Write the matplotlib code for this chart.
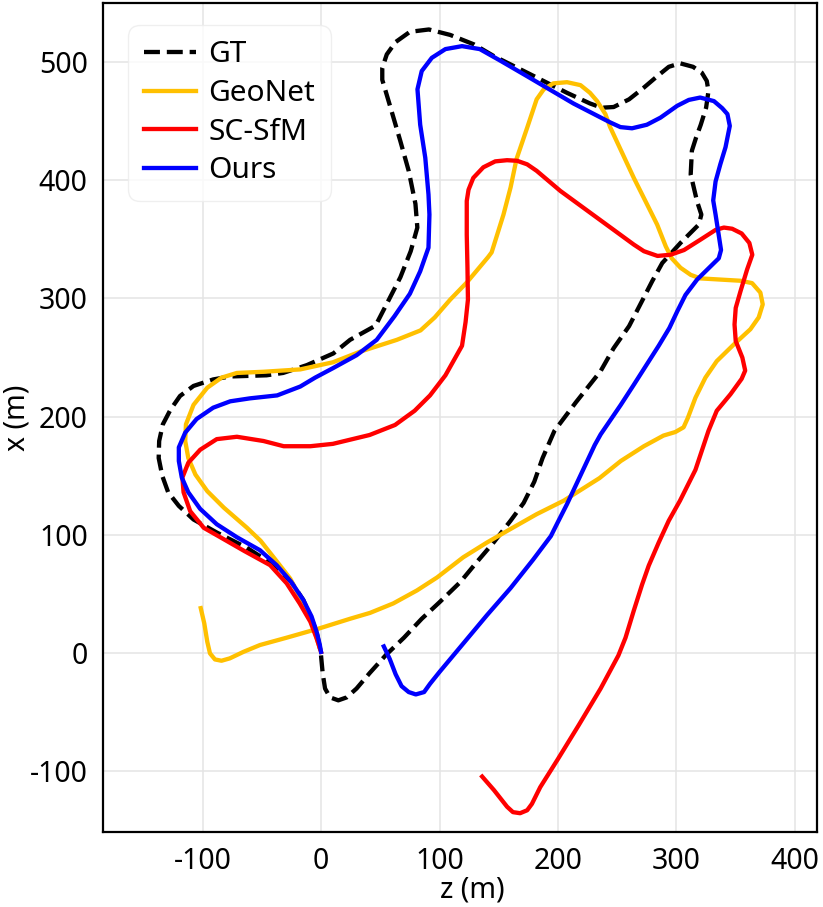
import matplotlib
matplotlib.use("Agg")
import matplotlib.pyplot as plt

# trajectories, z then x
gt_z = [0, 1.4, 3.4, 7.6, 14.6, 21.7, 30, 41, 55, 70, 85, 100, 117.5, 131.5, 146, 160, 171, 180, 187, 197, 215, 236, 247, 260, 271, 279.5, 288, 303.4, 318.8, 321, 317.4, 312, 313, 316.5, 320.5, 325, 327, 325.6, 321.4, 314, 303, 293.5, 283.7, 272, 260, 247, 237, 227, 207.6, 174, 146, 129, 109, 91, 75, 63, 55.5, 51.7, 51.7, 58.7, 67, 74, 79.7, 81.3, 75.7, 67, 57.5, 46, 24.5, 10.4, -12, -32, -46, -77, -91, -107.6, -119, -127, -133.5, -136.6, -137, -134, -129, -120, -107.6, -88, -62.5, -37.5, -25, -15, -4, 0]
gt_x = [-2, -17, -30, -37.5, -40, -37.5, -30, -17, -1.4, 13, 29, 43, 60, 77, 94, 112, 127, 145, 165, 188, 212, 238.6, 258, 276.6, 298, 314.6, 330, 347, 362.5, 371, 382, 405, 425, 436, 447, 461.4, 475.5, 484, 491, 496, 499, 496, 488, 478, 468.5, 462, 461.4, 465, 474, 491, 505, 515, 523, 527.6, 525.6, 517, 506.5, 495, 485, 461.4, 433, 408, 380, 360, 340, 318, 299.4, 277, 265, 253.5, 243.6, 237, 235, 234, 231.5, 226, 217.5, 206, 193.5, 179.4, 165, 150, 136, 124.5, 113, 102, 89, 73, 60, 45, 19, 0]

geonet_z = [-101.5, -98.5, -96, -93.7, -89.5, -84, -77, -65.5, -51.5, -29, -1, 24.5, 41.4, 61, 81, 98, 120, 140, 160, 182, 205, 235, 253, 272.5, 289, 299, 306, 309.6, 316, 324.4, 334, 348.3, 362.4, 369.4, 372.8, 370.8, 363.8, 354, 337, 320, 312, 303.4, 296, 291, 283.7, 274, 264, 244, 240, 233, 227, 219, 207.6, 196, 188, 182, 174, 165, 160, 154, 144, 141, 123, 109, 96, 84, 64, 33, 10, -17.5, -48.5, -71, -84, -96, -107.6, -114, -114.6, -112, -106, -96, -82, -62.5, -51, -40, -26, -15, -6.5, -1]
geonet_x = [38, 25, 9.6, -0.3, -5.4, -6.5, -4.5, 1, 6.8, 13, 21, 29, 34, 42, 53, 64, 81, 93.5, 105, 117.5, 129, 148, 162.5, 175, 184, 187, 191, 199, 216, 233, 247, 261, 274, 284, 295, 305, 313, 315, 316, 317, 320, 326, 334, 344, 362.5, 382, 402, 445, 456, 467, 474, 480.5, 483, 482, 477, 468.5, 444.5, 418, 394, 371, 339, 335, 313.5, 299, 284, 273, 265, 255, 246, 240, 238, 237, 233, 224.5, 210, 193.5, 179.4, 165, 151, 137, 123, 106, 95, 81, 63, 42, 22, 4]

sfm_z = [136, 146, 157, 162, 168, 174, 178, 185, 200, 217.5, 236, 251, 257, 264, 271, 276.6, 285, 293.5, 303, 316, 319, 327, 334, 345.6, 355, 358, 355.6, 350, 349, 350, 354, 359.6, 364, 361.5, 355, 347, 340, 333, 320.6, 306.4, 295, 284, 272.5, 264, 202, 182, 174, 165.5, 157, 147, 137, 128.5, 124.5, 123, 123, 123.6, 124, 122, 119, 105, 92, 79, 62.5, 41, 10, -9, -31.5, -48.5, -71, -88, -102, -112, -117, -116, -110.4, -99, -85, -65, -43, -29, -18, -9, -3.7, 0]
sfm_x = [-104.5, -116, -130, -134.6, -135.5, -133, -127.6, -113.5, -89.6, -61, -30, -2, 13, 36, 58, 74, 93.5, 112, 129, 155, 164, 188, 205, 219, 232, 239, 250, 264, 278, 292, 306, 324.5, 337, 347, 355, 359, 360, 358, 350, 341, 337, 336, 340, 345.6, 391, 408, 413.5, 416.5, 417, 416, 411, 402, 392, 382.5, 354, 326, 299, 280, 260, 235, 218, 205, 193, 184.5, 177, 175, 175, 179.4, 183, 181, 172, 161, 148.5, 136, 120, 106, 98, 86.5, 74.4, 59, 42, 26.5, 12.4, 1]

ours_z = [53, 58, 63, 68, 74, 80, 87, 92, 100, 120, 140, 160, 179, 194, 200.5, 207.6, 231, 236, 253, 264, 285, 294, 300.6, 307.6, 317.4, 335.7, 337.6, 335, 333, 331, 333, 337, 341.4, 345, 343, 338.6, 331.6, 320, 310.4, 300.6, 286.5, 275, 262.5, 252.7, 244, 213, 174, 151, 134, 119, 105, 93.5, 85, 81.4, 83.7, 88, 90.7, 91.5, 90.7, 83.7, 75, 62, 47, 30, 10, -5, -17.5, -37, -60, -76.6, -91, -105, -114.6, -120, -120, -117.5, -112, -102, -88, -71, -51.5, -37.5, -25, -15, -8, -3.7, -1, 0]
ours_x = [5.6, -5, -18, -28, -33, -35, -33, -26, -16, 8, 32, 55, 79, 99, 112, 126, 176, 185, 210, 227, 260, 275, 289, 303, 316, 334, 341, 358, 371, 383, 399, 413.5, 428, 446, 456, 461, 467, 470, 468, 463, 453, 447, 444, 445, 449, 465, 488, 501.4, 511, 513.5, 511, 503.6, 492.4, 477, 447, 419, 388, 371, 343, 323, 304, 285, 265, 252, 241, 233, 225.5, 218, 215.5, 213, 207.6, 198, 186.5, 174, 162.5, 148.5, 136, 122, 109, 98, 87, 74.4, 60, 45, 31, 18, 6.8, 1]

x_ticks = [-100, 0, 100, 200, 300, 400]
y_ticks = [-100, 0, 100, 200, 300, 400, 500]

plt.rcParams['font.family'] = ['Noto Sans', 'DejaVu Sans']
plt.rcParams['axes.unicode_minus'] = False
fig = plt.figure(figsize=(8.23, 9.07), dpi=100)
ax = fig.add_axes([103 / 823, 1 - 832 / 907, (817 - 103) / 823, (832 - 3) / 907])

ax.plot(gt_z, gt_x, color='black', lw=3.1, ls='--', label='GT')
ax.plot(geonet_z, geonet_x, color='#ffc000', lw=3.1, label='GeoNet')
ax.plot(sfm_z, sfm_x, color='red', lw=3.1, label='SC-SfM')
ax.plot(ours_z, ours_x, color='blue', lw=3.1, label='Ours')

ax.set_xlim(-184, 418.6)
ax.set_ylim(-151.4, 550)
ax.set_xticks(x_ticks)
ax.set_yticks(y_ticks)
ax.grid(True, color='#e4e4e4', lw=1.1)
ax.set_axisbelow(True)
ax.tick_params(length=0, labelsize=20.5, pad=11)
for spine in ax.spines.values():
    spine.set_linewidth(1.6)

ax.set_xlabel('z (m)', fontsize=20.5)
ax.set_ylabel('x (m)', fontsize=20.5)
ax.xaxis.set_label_coords(0.517, -0.053)
ax.yaxis.set_label_coords(-0.1, 0.5)

leg = ax.legend(loc='upper left', bbox_to_anchor=(0.035, 0.9735), borderaxespad=0, fontsize=21.5,
                labelspacing=0.32, handlelength=1.75, handletextpad=0.42, framealpha=0.8,
                edgecolor='#ececec', borderpad=0.52)
leg.get_frame().set_boxstyle('round', pad=0, rounding_size=0.4)

fig.savefig('out.png', dpi=100)
